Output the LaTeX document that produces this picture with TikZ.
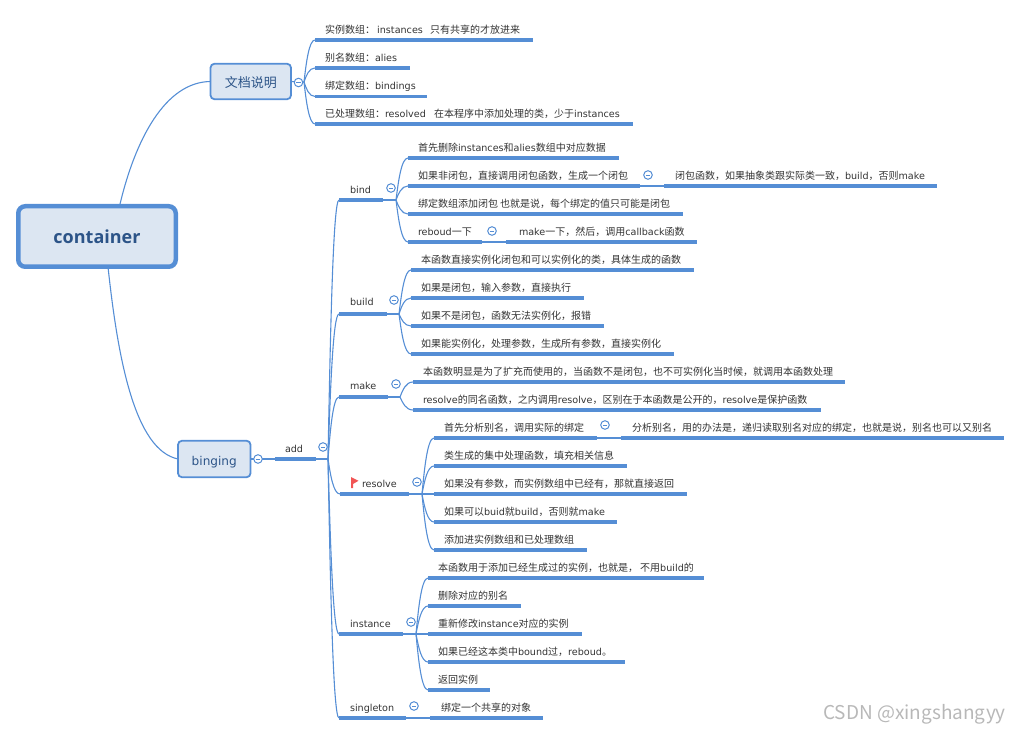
\documentclass[tikz,border=0pt]{standalone}
\usepackage{fontspec}
\usetikzlibrary{calc}
\setmainfont{Noto Sans CJK SC}
\newfontfamily\latinf{DejaVu Sans}[Scale=0.96]
\newfontfamily\titlef{Open Sans}
\newcommand\la[1]{{\latinf #1}}
\definecolor{mapblue}{HTML}{558ED5}
\definecolor{mapfill}{HTML}{DCE6F2}
\definecolor{mapink}{HTML}{2C5488}
\definecolor{inkleaf}{HTML}{333333}
\definecolor{flagred}{HTML}{F15555}
\tikzset{
  topic/.style={inner sep=0pt,outer sep=0pt,text=inkleaf,font=\fontsize{10}{12}\selectfont},
  stemline/.style={draw=mapblue,line width=3.2pt},
  thinl/.style={draw=mapblue,line width=1.1pt},
  rootbox/.style={draw=mapblue,line width=4.5pt,fill=mapfill,rounded corners=7pt,inner sep=0pt,outer sep=0pt,
    minimum width=157.5pt,minimum height=60.5pt,text height=15pt,text depth=0pt,text=mapink,font=\titlef\bfseries\fontsize{18}{20}\selectfont},
  subbox/.style={draw=mapblue,line width=1.8pt,fill=mapfill,rounded corners=4pt,inner sep=0pt,outer sep=0pt,
    text height=12pt,text depth=0pt,text=mapink,font=\fontsize{13}{15}\selectfont},
  fold/.style={circle,draw=mapblue,line width=1pt,fill=white,minimum size=8.6pt,inner sep=0pt,
    path picture={\draw[mapblue,line width=0.7pt] ([xshift=-2.2pt]path picture bounding box.center) -- ([xshift=2.2pt]path picture bounding box.center);}},
}
\newcommand\tpc[6][10]{%
  \pgfmathsetmacro\tpcw{#4-#3}%
  \node[topic,anchor=south west] (#2) at (#3,#5) {\makebox[\tpcw pt][l]{\rule[-6.5pt]{0pt}{22pt}\hspace{#1pt}#6}};
  \draw[stemline] (#2.south west) -- (#2.south east);
}
\newcommand\fan[2]{%
  \draw[thinl] let \p1=(#1),\p2=(#2) in (\p1) .. controls ({\x1+.2*(\x2-\x1)},{\y1+.45*(\y2-\y1)}) and ({\x1+.45*(\x2-\x1)},\y2) .. (\p2);
}
\begin{document}
\begin{tikzpicture}[x=1pt,y=-1pt]
\useasboundingbox (0,0) rectangle (1021,735);
% boxes
\node[rootbox] (root) at (97,236.5) {container};
\node[subbox,minimum width=80.5pt,minimum height=35.5pt] (doc) at (250.75,81.5) {文档说明};
\node[subbox,minimum width=72.5pt,minimum height=36.5pt] (bing) at (214.25,459) {{\latinf\fontsize{12.6}{15}\selectfont binging}};
% doc leaves
\tpc{d1}{315}{533}{40}{实例数组： \la{instances}\hspace{5pt} 只有共享的才放进来}
\tpc{d2}{315}{410}{68}{别名数组：\la{alies}}
\tpc{d3}{315}{427}{96.5}{绑定数组：\la{bindings}}
\tpc{d4}{315}{633}{124}{已处理数组：\la{resolved}\hspace{6pt} 在本程序中添加处理的类，少于\la{instances}}
% add level
\tpc{add}{275}{316}{459}{\la{add}}
\tpc[11]{bind}{339}{383}{200}{\la{bind}}
\tpc[11]{build}{339}{387}{314}{\raisebox{2pt}{\la{build}}}
\tpc[11]{make}{339}{388}{397}{\raisebox{1pt}{\la{make}}}
\tpc[22]{resolve}{340}{409}{494}{\la{resolve}}
\tpc[11]{inst}{339}{403}{634}{\la{instance}}
\tpc[11]{single}{339}{406}{718}{\la{singleton}}
% bind
\tpc{b1}{408}{619}{158}{首先删除\la{instances}和\la{alies}数组中对应数据}
\tpc{b2}{408}{640}{186}{如果非闭包，直接调用闭包函数，生成一个闭包}
\tpc[11]{b2a}{664}{937}{186}{闭包函数，如果抽象类跟实际类一致，\la{build}，否则\la{make}}
\tpc{b3}{408}{683}{214}{绑定数组添加闭包 也就是说，每个绑定的值只可能是闭包}
\tpc{b4}{408}{482}{242}{\la{reboud}一下}
\tpc[13]{b4a}{506}{697}{242}{\la{make}一下，然后，调用\la{callback}函数}
% build
\tpc{c1}{411}{694}{270}{本函数直接实例化闭包和可以实例化的类，具体生成的函数}
\tpc{c2}{411}{584}{298}{如果是闭包，输入参数，直接执行}
\tpc{c3}{411}{604}{326}{如果不是闭包，函数无法实例化，报错}
\tpc{c4}{411}{674}{354}{如果能实例化，处理参数，生成所有参数，直接实例化}
% make
\tpc{m1}{413}{845}{382}{本函数明显是为了扩充而使用的，当函数不是闭包，也不可实例化当时候，就调用本函数处理}
\tpc{m2}{413}{821}{410}{\la{resolve}的同名函数，之内调用\la{resolve}，区别在于本函数是公开的，\la{resolve}是保护函数}
% resolve
\tpc{r1}{434}{597}{438}{首先分析别名，调用实际的绑定}
\tpc[11]{r1a}{621}{1004}{438}{分析别名，用的办法是，递归读取别名对应的绑定，也就是说，别名也可以又别名}
\tpc{r2}{434}{627}{466}{类生成的集中处理函数，填充相关信息}
\tpc{r3}{434}{687}{494}{如果没有参数，而实例数组中已经有，那就直接返回}
\tpc{r4}{434}{617}{522}{如果可以\la{buid}就\la{build}，否则就\la{make}}
\tpc{r5}{434}{587}{550}{添加进实例数组和已处理数组}
% instance
\tpc{i1}{428}{704}{578}{本函数用于添加已经生成过的实例，也就是， 不用\la{build}的}
\tpc{i2}{428}{521}{606}{删除对应的别名}
\tpc{i3}{428}{582}{634}{重新修改\la{instance}对应的实例}
\tpc{i4}{428}{625}{662}{如果已经这本类中\la{bound}过，\la{reboud}。}
\tpc{i5}{428}{490}{690}{返回实例}
\tpc[11]{s1}{430}{543}{718}{绑定一个共享的对象}
% junctions
\coordinate (jdoc) at (304,82);
\coordinate (jadd) at (328,459);
\coordinate (jbind) at (396,200);
\coordinate (jbuild) at (399,314);
\coordinate (jmake) at (400,397);
\coordinate (jres) at (422,494);
\coordinate (jinst) at (416,634);
% root connectors
\draw[thinl] ($(root.north)+(22.5,0)$) .. controls (135,140) and (165,82) .. (doc.west);
\draw[thinl] ($(root.south)+(11,0)$) .. controls (118,360) and (135,450) .. (bing.west);
% stems
\draw[thinl] (doc.east) -- (jdoc);
\draw[thinl] (bing.east) -- (add.south west);
\draw[thinl] (add.south east) -- (jadd);
\draw[thinl] (bind.south east) -- (jbind);
\draw[thinl] (build.south east) -- (jbuild);
\draw[thinl] (make.south east) -- (jmake);
\draw[thinl] (resolve.south east) -- (r3.south west);
\draw[thinl] (inst.south east) -- (i3.south west);
\draw[thinl] (single.south east) -- (s1.south west);
\draw[thinl] (b2.south east) -- (b2a.south west);
\draw[thinl] (b4.south east) -- (b4a.south west);
\draw[thinl] (r1.south east) -- (r1a.south west);
% fans
\fan{jdoc}{d1.south west}\fan{jdoc}{d2.south west}\fan{jdoc}{d3.south west}\fan{jdoc}{d4.south west}
\fan{jadd}{bind.south west}\fan{jadd}{build.south west}\fan{jadd}{make.south west}\fan{jadd}{resolve.south west}\fan{jadd}{inst.south west}\fan{jadd}{single.south west}
\fan{jbind}{b1.south west}\fan{jbind}{b2.south west}\fan{jbind}{b3.south west}\fan{jbind}{b4.south west}
\fan{jbuild}{c1.south west}\fan{jbuild}{c2.south west}\fan{jbuild}{c3.south west}\fan{jbuild}{c4.south west}
\fan{jmake}{m1.south west}\fan{jmake}{m2.south west}
\fan{jres}{r1.south west}\fan{jres}{r2.south west}\fan{jres}{r4.south west}\fan{jres}{r5.south west}
\fan{jinst}{i1.south west}\fan{jinst}{i2.south west}\fan{jinst}{i4.south west}\fan{jinst}{i5.south west}
% fold marks
\node[fold] (f1) at (298.5,82.5) {};
\node[fold] (f2) at (258,459) {};
\node[fold] (f3) at (323,447) {};
\node[fold] (f4) at (391,188) {};
\node[fold] (f5) at (648,175) {};
\node[fold] (f6) at (492,231) {};
\node[fold] (f7) at (394,300) {};
\node[fold] (f8) at (396,384) {};
\node[fold] (f9) at (417,482) {};
\node[fold] (f10) at (605,425) {};
\node[fold] (f11) at (411,622) {};
\node[fold] (f12) at (414,706) {};
% flag
\fill[flagred] (351,477) -- (358.5,480.8) -- (353,484) -- (353,488) -- (351,488) -- cycle;
% watermark
\node[anchor=east,text=black!28,inner sep=0pt,font=\fontsize{19}{22}\selectfont] (wm) at (1006,714) {CSDN @xingshangyy};
\end{tikzpicture}
\end{document}
